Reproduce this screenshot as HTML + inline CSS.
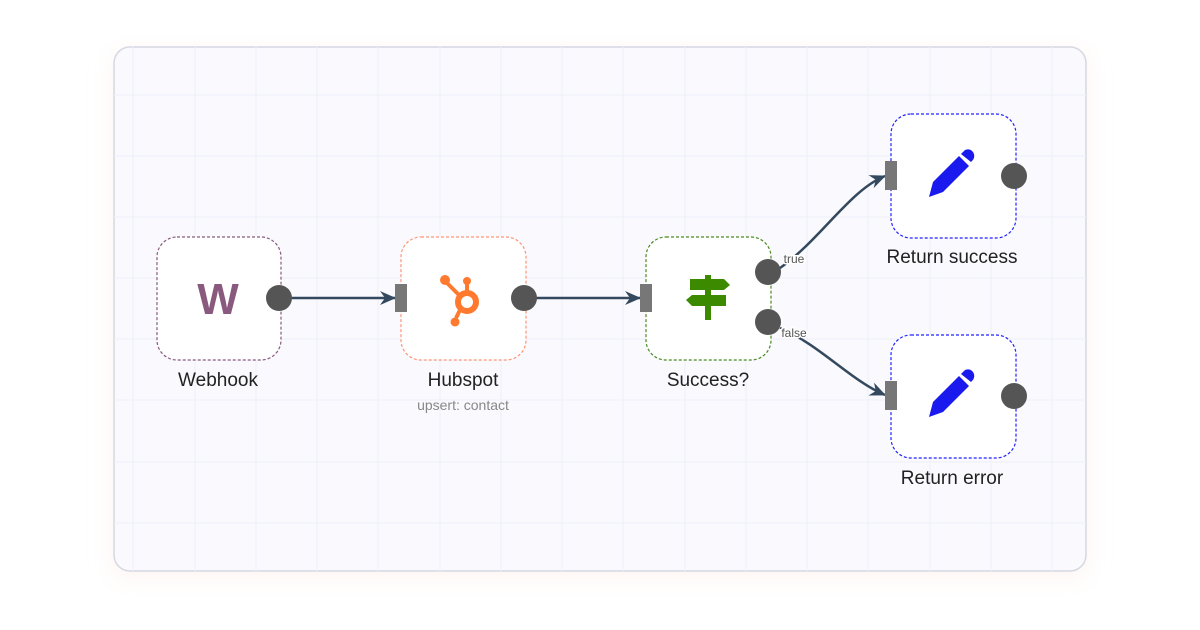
<!DOCTYPE html>
<html><head><meta charset="utf-8"><style>
html,body{margin:0;padding:0;width:1200px;height:630px;background:#fff;overflow:hidden}
svg{display:block}
text{font-family:"Liberation Sans","DejaVu Sans",sans-serif}
</style></head><body>
<svg width="1200" height="630" viewBox="0 0 1200 630">
<defs>
<filter id="sh" x="-10%" y="-10%" width="120%" height="130%"><feGaussianBlur stdDeviation="10"/></filter>
<clipPath id="pc"><rect x="114" y="47" width="972" height="524" rx="16"/></clipPath>
<marker id="ar" viewBox="0 0 16 16" refX="15" refY="8" markerWidth="16" markerHeight="16" markerUnits="userSpaceOnUse" orient="auto"><path d="M0,1 L16,8 L0,15 L5,8 Z" fill="#34495e"/></marker>
</defs>
<rect x="110" y="50" width="980" height="530" rx="18" fill="#fdeee8" opacity="0.5" filter="url(#sh)"/>
<rect x="114" y="47" width="972" height="524" rx="16" fill="#f9f9fe" stroke="#d6d8e2" stroke-width="1.5"/>
<g clip-path="url(#pc)" stroke="#efeff9" stroke-width="1">
<path d="M133 47V571M195 47V571M256 47V571M317 47V571M378 47V571M440 47V571M501 47V571M562 47V571M623 47V571M685 47V571M746 47V571M807 47V571M868 47V571M930 47V571M991 47V571M1052 47V571"/>
<path d="M114 95H1086M114 156H1086M114 217H1086M114 278H1086M114 339H1086M114 400H1086M114 462H1086M114 523H1086"/>
</g>
<g fill="none" stroke="#34495e" stroke-width="2.5">
<path d="M290 298 H395" marker-end="url(#ar)"/>
<path d="M535 298 H640" marker-end="url(#ar)"/>
<path d="M780 268 C820 240, 850 190, 885 176" marker-end="url(#ar)"/>
<path d="M780 328 C820 345, 850 380, 885 395" marker-end="url(#ar)"/>
</g>
<g fill="#fff" stroke-width="1.2" stroke-dasharray="3,2">
<rect x="157" y="237" width="124" height="123" rx="20" stroke="#8a5a7e"/>
<rect x="401" y="237" width="125" height="123" rx="20" stroke="#ff9575"/>
<rect x="646" y="237" width="125" height="123" rx="20" stroke="#4a8a20"/>
<rect x="891" y="114" width="125" height="124" rx="20" stroke="#2222ff"/>
<rect x="891" y="335" width="125" height="123" rx="20" stroke="#2222ff"/>
</g>
<g fill="#777"><rect x="395" y="284" width="12" height="28"/><rect x="640" y="284" width="12" height="28"/><rect x="885" y="161" width="12" height="29"/><rect x="885" y="381" width="12" height="29"/></g>
<g fill="#555"><circle cx="279" cy="298" r="13"/><circle cx="524" cy="298" r="13"/><circle cx="768" cy="272" r="13"/><circle cx="768" cy="322" r="13"/><circle cx="1014" cy="176" r="13"/><circle cx="1014" cy="396" r="13"/></g>
<g font-size="12" fill="#555" text-anchor="middle" stroke="#fff" stroke-width="3" paint-order="stroke">
<text x="794" y="263">true</text>
<text x="794" y="337">false</text>
</g>
<text x="218" y="314" font-size="44" font-weight="bold" fill="#8a5a7e" text-anchor="middle">W</text>
<g fill="#ff7a2f" stroke="#ff7a2f">
<circle cx="467" cy="302" r="9" fill="none" stroke-width="6"/>
<line x1="467" y1="293" x2="467" y2="283" stroke-width="4"/>
<circle cx="467" cy="281" r="4" stroke="none"/>
<line x1="460" y1="296" x2="447" y2="283" stroke-width="4"/>
<circle cx="445" cy="280" r="5" stroke="none"/>
<line x1="461" y1="308" x2="456" y2="318" stroke-width="4"/>
<circle cx="455" cy="322" r="4.5" stroke="none"/>
</g>
<g fill="#3c8a00">
<rect x="705" y="275" width="6" height="45"/>
<path d="M690 279 H724 L730 285 L724 290 H690 Z"/>
<path d="M692 295 H726 V306 H692 L686 300 Z"/>
</g>
<g fill="#1a1aee">
<path d="M929 197 L933 182 L959 156 L969 166 L943 192 Z"/>
<path d="M961 154 L965 150 Q970 148 973 152 L974 154 Q975 158 972 161 L971 162 Z"/>
<path d="M929 417 L933 402 L959 376 L969 386 L943 412 Z"/>
<path d="M961 374 L965 370 Q970 368 973 372 L974 374 Q975 378 972 381 L971 382 Z"/>
</g>
<g font-size="19" fill="#222" text-anchor="middle">
<text x="218" y="386">Webhook</text>
<text x="463" y="386">Hubspot</text>
<text x="708" y="386">Success?</text>
<text x="952" y="263">Return success</text>
<text x="952" y="484">Return error</text>
</g>
<text x="463" y="410" font-size="14" fill="#888" text-anchor="middle">upsert: contact</text>
</svg>
</body></html>
